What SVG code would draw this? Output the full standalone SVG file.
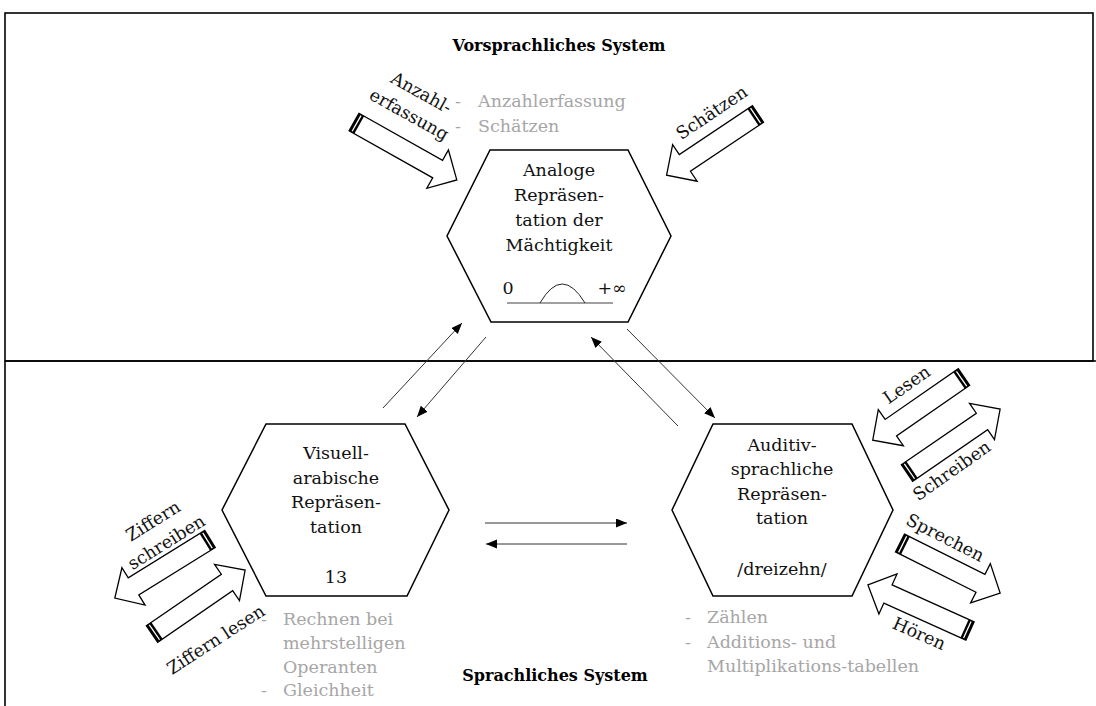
<svg xmlns="http://www.w3.org/2000/svg" width="1096" height="706" viewBox="0 0 1096 706">
<defs>
<style>
.t{font-family:"DejaVu Serif","Liberation Serif",serif;font-size:17.5px;fill:#111;text-anchor:middle}
.g{font-family:"DejaVu Serif","Liberation Serif",serif;font-size:17.5px;fill:#a6a6a6}
.b{font-family:"DejaVu Serif","Liberation Serif",serif;font-size:16px;font-weight:bold;fill:#000;text-anchor:middle}
.hex{fill:#fff;stroke:#000;stroke-width:1.5}
.con{stroke:#333;stroke-width:1;fill:none;marker-end:url(#ah)}
.ba{fill:#fff;stroke:#000;stroke-width:1.3;stroke-linejoin:miter}
.frame{fill:none;stroke:#000;stroke-width:1.6}
</style>
<marker id="ah" markerUnits="userSpaceOnUse" markerWidth="12" markerHeight="10" refX="11" refY="4.5" orient="auto">
<path d="M0,0 L11,4.5 L0,9 Z" fill="#000"/>
</marker>
<g id="tailcap">
<rect x="0" y="-10" width="6" height="20" fill="#000"/>
<rect x="2.3" y="-9" width="1.3" height="18" fill="#fff"/>
</g>
</defs>
<rect width="1096" height="706" fill="#fff"/>
<g id="frame">
<rect class="frame" x="5" y="13" width="1088" height="348"/>
<line class="frame" x1="5" y1="361" x2="5" y2="706"/>
<line class="frame" x1="5" y1="361" x2="1096" y2="361"/>
</g>
<text class="b" x="559" y="51">Vorsprachliches System</text>
<text class="b" x="555" y="681">Sprachliches System</text>

<g id="connectors">
<line class="con" x1="383" y1="408" x2="462" y2="323"/>
<line class="con" x1="486" y1="337" x2="417" y2="417"/>
<line class="con" x1="678" y1="426" x2="591" y2="337"/>
<line class="con" x1="627" y1="329" x2="715" y2="418"/>
<line class="con" x1="485" y1="523" x2="627" y2="523"/>
<line class="con" x1="627" y1="544" x2="486" y2="544"/>
</g>

<g id="node-analog">
<polygon class="hex" points="490,150 628,150 671,236 628,322 491,322 447,236"/>
<text class="t" x="559" y="176">Analoge</text>
<text class="t" x="559" y="201">Repräsen-</text>
<text class="t" x="559" y="226">tation der</text>
<text class="t" x="559" y="251">Mächtigkeit</text>
<text class="t" x="508" y="294">0</text>
<text class="t" x="612" y="294">+∞</text>
<line x1="507" y1="303" x2="613" y2="303" stroke="#808080" stroke-width="1.3"/>
<path d="M540,303 Q562,265 585,303" fill="none" stroke="#222" stroke-width="1"/>
</g>

<g id="node-visuell">
<polygon class="hex" points="266,424 405,424 449,510 407,596 266,596 222,510"/>
<text class="t" x="336" y="459">Visuell-</text>
<text class="t" x="336" y="484">arabische</text>
<text class="t" x="336" y="508">Repräsen-</text>
<text class="t" x="336" y="533">tation</text>
<text class="t" x="336" y="583">13</text>
</g>

<g id="node-auditiv">
<polygon class="hex" points="713,424 852,424 893,510 852,596 713,596 672,510"/>
<text class="t" x="782" y="451">Auditiv-</text>
<text class="t" x="782" y="475">sprachliche</text>
<text class="t" x="782" y="500">Repräsen-</text>
<text class="t" x="782" y="524">tation</text>
<text class="t" x="782" y="575">/dreizehn/</text>
</g>

<g id="list-top">
<text class="g" x="455" y="107">-</text>
<text class="g" x="478" y="107">Anzahlerfassung</text>
<text class="g" x="455" y="132">-</text>
<text class="g" x="478" y="132">Schätzen</text>
</g>
<g id="list-left">
<text class="g" x="261" y="625">-</text>
<text class="g" x="283" y="625">Rechnen bei</text>
<text class="g" x="283" y="649">mehrstelligen</text>
<text class="g" x="283" y="673">Operanten</text>
<text class="g" x="261" y="696">-</text>
<text class="g" x="283" y="696">Gleichheit</text>
</g>
<g id="list-right">
<text class="g" x="685" y="623">-</text>
<text class="g" x="707" y="623">Zählen</text>
<text class="g" x="685" y="648">-</text>
<text class="g" x="707" y="648">Additions- und</text>
<text class="g" x="707" y="672">Multiplikations-tabellen</text>
</g>

<g id="arrow-anzahl">
<g transform="translate(354,122) rotate(29.4)">
<path class="ba" d="M0,-10 L96,-10 L96,-22 L118,0 L96,22 L96,10 L0,10 Z"/>
<use href="#tailcap"/>
</g>
<g transform="translate(415,104) rotate(29)">
<text class="t" x="0" y="-7">Anzahl-</text>
<text class="t" x="0" y="18">erfassung</text>
</g>
</g>

<g id="arrow-schaetzen">
<g transform="translate(758,114) rotate(146.2)">
<path class="ba" d="M0,-10 L88,-10 L88,-22 L110,0 L88,22 L88,10 L0,10 Z"/>
<use href="#tailcap"/>
</g>
<text class="t" transform="translate(712,113) rotate(-34)" y="5.5">Schätzen</text>
</g>

<g id="arrow-lesen">
<g transform="translate(964,377) rotate(145.3)">
<path class="ba" d="M0,-10 L89,-10 L89,-22 L111,0 L89,22 L89,10 L0,10 Z"/>
<use href="#tailcap"/>
</g>
<text class="t" transform="translate(907,385) rotate(-35)" y="5.5">Lesen</text>
</g>

<g id="arrow-schreiben">
<g transform="translate(907,473) rotate(-34.5)">
<path class="ba" d="M0,-10 L91,-10 L91,-22 L113,0 L91,22 L91,10 L0,10 Z"/>
<use href="#tailcap"/>
</g>
<text class="t" transform="translate(952,471) rotate(-35)" y="5.5">Schreiben</text>
</g>

<g id="arrow-sprechen">
<g transform="translate(900,543) rotate(26.6)">
<path class="ba" d="M0,-10 L90,-10 L90,-22 L112,0 L90,22 L90,10 L0,10 Z"/>
<use href="#tailcap"/>
</g>
<text class="t" transform="translate(945,538) rotate(27)" y="5.5">Sprechen</text>
</g>

<g id="arrow-hoeren">
<g transform="translate(970,631) rotate(204.3)">
<path class="ba" d="M0,-10 L90,-10 L90,-22 L112,0 L90,22 L90,10 L0,10 Z"/>
<use href="#tailcap"/>
</g>
<text class="t" transform="translate(919,634) rotate(24)" y="5.5">Hören</text>
</g>

<g id="arrow-ziffern-schreiben">
<g transform="translate(210,539) rotate(148.2)">
<path class="ba" d="M0,-10 L90,-10 L90,-22 L112,0 L90,22 L90,10 L0,10 Z"/>
<use href="#tailcap"/>
</g>
<g transform="translate(160,532) rotate(-32)">
<text class="t" x="0" y="-7">Ziffern</text>
<text class="t" x="0" y="18">schreiben</text>
</g>
</g>

<g id="arrow-ziffern-lesen">
<g transform="translate(152,634) rotate(-34.5)">
<path class="ba" d="M0,-10 L91,-10 L91,-22 L113,0 L91,22 L91,10 L0,10 Z"/>
<use href="#tailcap"/>
</g>
<text class="t" transform="translate(216,640) rotate(-33)" y="5.5">Ziffern lesen</text>
</g>
</svg>
